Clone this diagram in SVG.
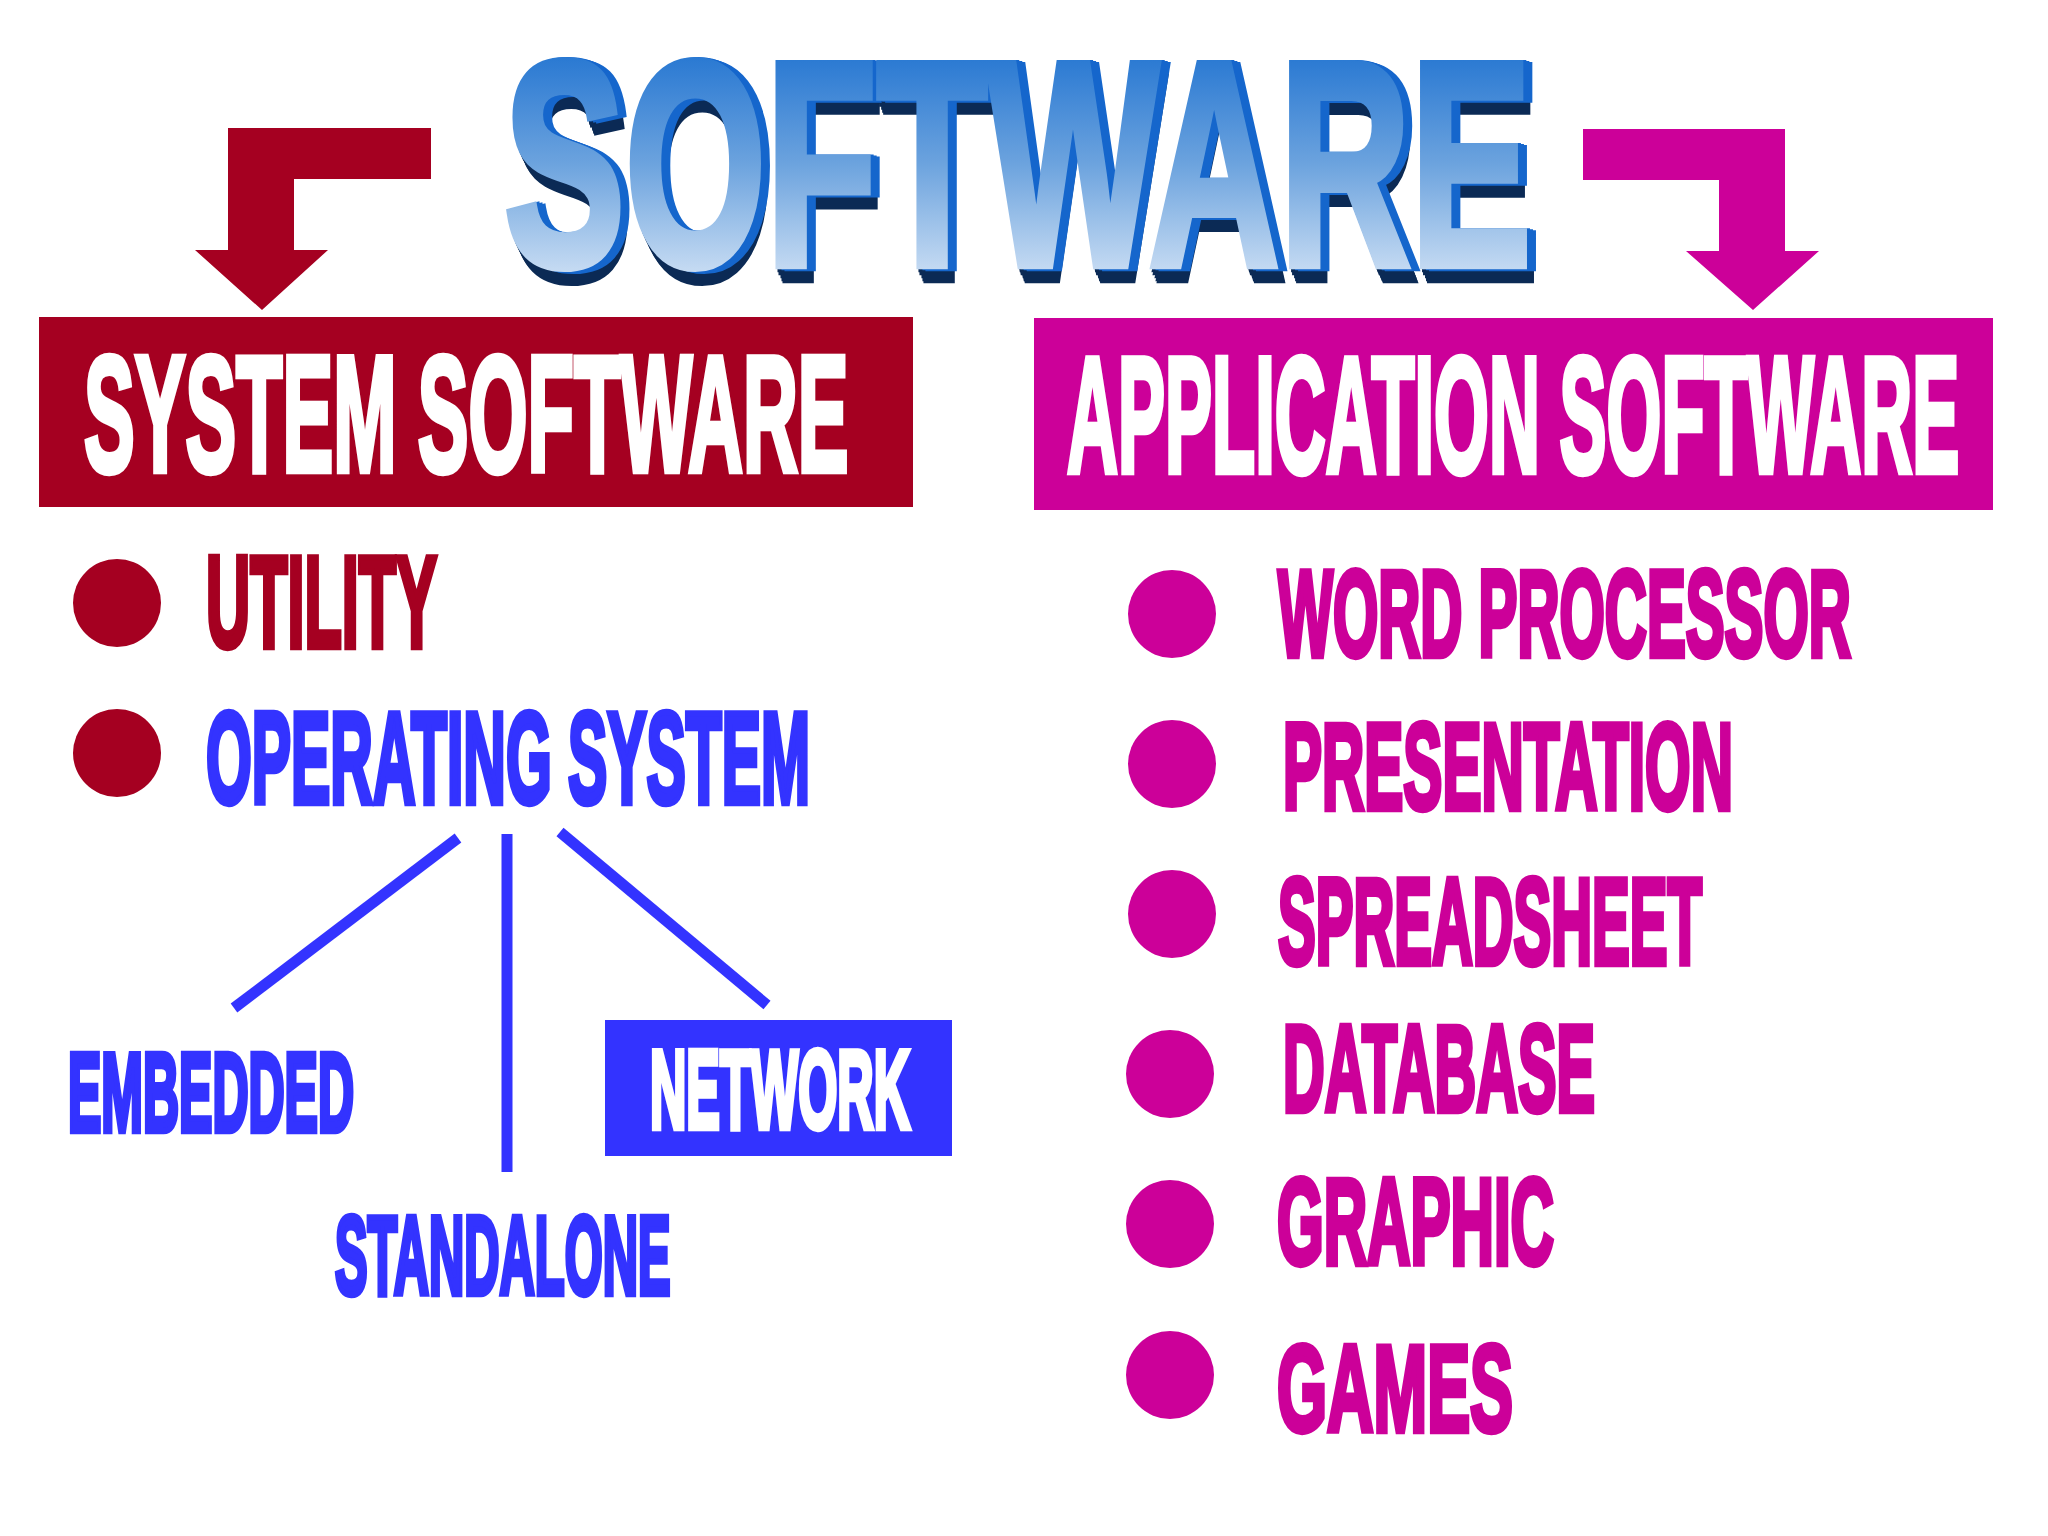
<svg xmlns="http://www.w3.org/2000/svg" width="2048" height="1536" viewBox="0 0 2048 1536">
<style>
text { font-family: "Liberation Sans", Arial, sans-serif; font-weight: bold; stroke-linejoin: miter; vector-effect: non-scaling-stroke; }
.red { fill: #a50021; }
.mag { fill: #cc0099; }
.blue { fill: #3333ff; }
.rtxt { fill: #a50021; stroke: #a50021; stroke-width: 5; }
.btxt { fill: #3333ff; stroke: #3333ff; stroke-width: 5; }
.mtxt { fill: #cc0099; stroke: #cc0099; stroke-width: 5; }
.wtxt { fill: #ffffff; stroke: #ffffff; stroke-width: 5; }
.line { stroke: #3333ff; stroke-width: 11; stroke-linecap: butt; fill: none; }
</style>
<defs>
<linearGradient id="titleGrad" x1="0" y1="0" x2="0" y2="1">
<stop offset="0" stop-color="#0763cc"/>
<stop offset="0.5" stop-color="#6ca3de"/>
<stop offset="1" stop-color="#f4f8fd"/>
</linearGradient>
<filter id="extrude" x="-2%" y="-5%" width="106%" height="115%" color-interpolation-filters="sRGB">
<feOffset in="SourceAlpha" dx="3" dy="3" result="n1"/>
<feOffset in="SourceAlpha" dx="5" dy="6" result="n2"/>
<feOffset in="SourceAlpha" dx="8" dy="9" result="n3"/>
<feOffset in="SourceAlpha" dx="10" dy="12" result="n4"/>
<feOffset in="SourceAlpha" dx="11" dy="14" result="n5"/>
<feMerge result="navyMask">
<feMergeNode in="n1"/><feMergeNode in="n2"/><feMergeNode in="n3"/><feMergeNode in="n4"/><feMergeNode in="n5"/>
</feMerge>
<feFlood flood-color="#0b2a55" result="navyC"/>
<feComposite in="navyC" in2="navyMask" operator="in" result="navy"/>
<feOffset in="SourceAlpha" dx="5" dy="0" result="b1"/>
<feOffset in="SourceAlpha" dx="10" dy="1" result="b2"/>
<feOffset in="SourceAlpha" dx="15" dy="2" result="b3"/>
<feMerge result="blueMask">
<feMergeNode in="b1"/><feMergeNode in="b2"/><feMergeNode in="b3"/>
</feMerge>
<feFlood flood-color="#1566cc" result="blueC"/>
<feComposite in="blueC" in2="blueMask" operator="in" result="blue"/>
<feMerge>
<feMergeNode in="navy"/><feMergeNode in="blue"/><feMergeNode in="SourceGraphic"/>
</feMerge>
</filter>
</defs>
<rect width="2048" height="1536" fill="#ffffff"/>

<g id="title">
<text transform="translate(504,265) scale(0.621,1)" font-size="292" fill="url(#titleGrad)" stroke="url(#titleGrad)" stroke-width="7" filter="url(#extrude)">SOFTWARE</text>
</g>

<g id="connectors">
<polygon id="arrow-system" class="red" points="431,128 431,179 294,179 294,250 328,250 262,310 195,250 228,250 228,128"/>
<polygon id="arrow-application" class="mag" points="1583,129 1785,129 1785,251 1819,251 1753,310 1686,251 1719,251 1719,180 1583,180"/>
<line class="line" x1="458" y1="838" x2="234" y2="1008"/>
<line class="line" x1="507" y1="834" x2="507" y2="1172" stroke-width="12"/>
<line class="line" x1="560" y1="832" x2="767" y2="1005"/>
</g>

<g id="node-system-software">
<rect class="red" x="39" y="317" width="874" height="190"/>
<text class="wtxt" transform="translate(84,471) scale(0.458,1)" font-size="166">SYSTEM SOFTWARE</text>
</g>

<g id="node-application-software">
<rect class="mag" x="1034" y="318" width="959" height="192"/>
<text class="wtxt" transform="translate(1067,472) scale(0.425,1)" font-size="166">APPLICATION SOFTWARE</text>
</g>

<g id="node-utility">
<circle class="red" cx="117" cy="603" r="44"/>
<text class="rtxt" transform="translate(206,647) scale(0.4704,1)" font-size="130">UTILITY</text>
</g>

<g id="node-operating-system">
<circle class="red" cx="117" cy="753" r="44"/>
<text class="btxt" transform="translate(206,803) scale(0.453,1)" font-size="130">OPERATING SYSTEM</text>
</g>

<g id="node-embedded">
<text class="btxt" transform="translate(68,1131) scale(0.4503,1)" font-size="111">EMBEDDED</text>
</g>

<g id="node-standalone">
<text class="btxt" transform="translate(335,1294) scale(0.440,1)" font-size="111">STANDALONE</text>
</g>

<g id="node-network">
<rect class="blue" x="605" y="1020" width="347" height="136"/>
<text class="wtxt" transform="translate(650,1128) scale(0.4494,1)" font-size="112">NETWORK</text>
</g>

<g id="node-word-processor">
<circle class="mag" cx="1172" cy="614" r="44"/>
<text class="mtxt" transform="translate(1278,656) scale(0.4737,1)" font-size="123">WORD PROCESSOR</text>
</g>

<g id="node-presentation">
<circle class="mag" cx="1172" cy="764" r="44"/>
<text class="mtxt" transform="translate(1283,809) scale(0.476,1)" font-size="123">PRESENTATION</text>
</g>

<g id="node-spreadsheet">
<circle class="mag" cx="1172" cy="914" r="44"/>
<text class="mtxt" transform="translate(1278,964) scale(0.4596,1)" font-size="123">SPREADSHEET</text>
</g>

<g id="node-database">
<circle class="mag" cx="1170" cy="1074" r="44"/>
<text class="mtxt" transform="translate(1283,1111) scale(0.469,1)" font-size="123">DATABASE</text>
</g>

<g id="node-graphic">
<circle class="mag" cx="1170" cy="1224" r="44"/>
<text class="mtxt" transform="translate(1277,1264) scale(0.4884,1)" font-size="123">GRAPHIC</text>
</g>

<g id="node-games">
<circle class="mag" cx="1170" cy="1375" r="44"/>
<text class="mtxt" transform="translate(1277,1431) scale(0.5233,1)" font-size="123">GAMES</text>
</g>
</svg>
